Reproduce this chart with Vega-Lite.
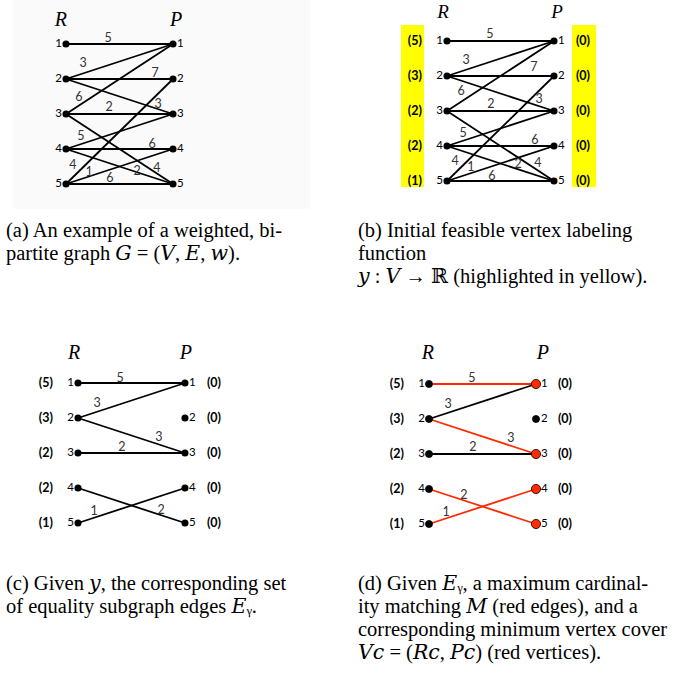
{
"$schema":"https://vega.github.io/schema/vega-lite/v6.json",
"padding":0,
"background":"white",
"datasets":{
"edges":[
{"panel":"a","r":1,"p":1,"w":5,"lx":0.393,"ly":0.829,"m":"no"},
{"panel":"a","r":2,"p":1,"w":3,"lx":0.159,"ly":1.543,"m":"no"},
{"panel":"a","r":2,"p":2,"w":7,"lx":0.832,"ly":1.829,"m":"no"},
{"panel":"a","r":2,"p":3,"w":3,"lx":0.860,"ly":2.714,"m":"no"},
{"panel":"a","r":3,"p":1,"w":6,"lx":0.121,"ly":2.514,"m":"no"},
{"panel":"a","r":3,"p":3,"w":2,"lx":0.402,"ly":2.8,"m":"no"},
{"panel":"a","r":3,"p":5,"w":4,"lx":0.850,"ly":4.543,"m":"no"},
{"panel":"a","r":4,"p":3,"w":5,"lx":0.140,"ly":3.629,"m":"no"},
{"panel":"a","r":4,"p":4,"w":6,"lx":0.804,"ly":3.857,"m":"no"},
{"panel":"a","r":4,"p":5,"w":2,"lx":0.664,"ly":4.629,"m":"no"},
{"panel":"a","r":5,"p":2,"w":4,"lx":0.065,"ly":4.457,"m":"no"},
{"panel":"a","r":5,"p":4,"w":1,"lx":0.215,"ly":4.657,"m":"no"},
{"panel":"a","r":5,"p":5,"w":6,"lx":0.411,"ly":4.829,"m":"no"},
{"panel":"b","r":1,"p":1,"w":5,"lx":0.40,"ly":0.80,"m":"no"},
{"panel":"b","r":2,"p":1,"w":3,"lx":0.178,"ly":1.543,"m":"no"},
{"panel":"b","r":2,"p":2,"w":7,"lx":0.813,"ly":1.743,"m":"no"},
{"panel":"b","r":2,"p":3,"w":3,"lx":0.86,"ly":2.657,"m":"no"},
{"panel":"b","r":3,"p":1,"w":6,"lx":0.131,"ly":2.43,"m":"no"},
{"panel":"b","r":3,"p":3,"w":2,"lx":0.411,"ly":2.8,"m":"no"},
{"panel":"b","r":3,"p":5,"w":4,"lx":0.85,"ly":4.49,"m":"no"},
{"panel":"b","r":4,"p":3,"w":5,"lx":0.15,"ly":3.63,"m":"no"},
{"panel":"b","r":4,"p":4,"w":6,"lx":0.822,"ly":3.83,"m":"no"},
{"panel":"b","r":4,"p":5,"w":2,"lx":0.664,"ly":4.51,"m":"no"},
{"panel":"b","r":5,"p":2,"w":4,"lx":0.075,"ly":4.43,"m":"no"},
{"panel":"b","r":5,"p":4,"w":1,"lx":0.224,"ly":4.6,"m":"no"},
{"panel":"b","r":5,"p":5,"w":6,"lx":0.42,"ly":4.86,"m":"no"},
{"panel":"c","r":1,"p":1,"w":5,"lx":0.393,"ly":0.857,"m":"no"},
{"panel":"c","r":2,"p":1,"w":3,"lx":0.178,"ly":1.571,"m":"no"},
{"panel":"c","r":2,"p":3,"w":3,"lx":0.757,"ly":2.543,"m":"no"},
{"panel":"c","r":3,"p":3,"w":2,"lx":0.411,"ly":2.829,"m":"no"},
{"panel":"c","r":5,"p":4,"w":1,"lx":0.15,"ly":4.657,"m":"no"},
{"panel":"c","r":4,"p":5,"w":2,"lx":0.776,"ly":4.629,"m":"no"},
{"panel":"d","r":1,"p":1,"w":5,"lx":0.40,"ly":0.83,"m":"yes"},
{"panel":"d","r":2,"p":1,"w":3,"lx":0.178,"ly":1.57,"m":"no"},
{"panel":"d","r":2,"p":3,"w":3,"lx":0.766,"ly":2.54,"m":"yes"},
{"panel":"d","r":3,"p":3,"w":2,"lx":0.41,"ly":2.8,"m":"no"},
{"panel":"d","r":4,"p":5,"w":2,"lx":0.327,"ly":4.17,"m":"yes"},
{"panel":"d","r":5,"p":4,"w":1,"lx":0.159,"ly":4.66,"m":"yes"}
],
"nodes":[
{"s":0,"v":1,"lab":"(5)","cov":"no"},
{"s":0,"v":2,"lab":"(3)","cov":"no"},
{"s":0,"v":3,"lab":"(2)","cov":"no"},
{"s":0,"v":4,"lab":"(2)","cov":"no"},
{"s":0,"v":5,"lab":"(1)","cov":"no"},
{"s":1,"v":1,"lab":"(0)","cov":"yes"},
{"s":1,"v":2,"lab":"(0)","cov":"no"},
{"s":1,"v":3,"lab":"(0)","cov":"yes"},
{"s":1,"v":4,"lab":"(0)","cov":"yes"},
{"s":1,"v":5,"lab":"(0)","cov":"yes"}
]
},
"vconcat":[
{"hconcat":[
{"width":337,"height":337,"layer":[
{"data":{"values":[{}]},"mark":{"type":"rect","fill":"#fafafa"},"encoding":{"x":{"datum":-0.495,"type":"quantitative"},"x2":{"datum":2.28},"y":{"datum":-0.257,"type":"quantitative"},"y2":{"datum":5.714}}},
{"data":{"name":"edges"},"transform":[{"filter":"datum.panel=='a'"}],"mark":{"type":"rule","stroke":"black","strokeWidth":1.8},"encoding":{"x":{"datum":0,"type":"quantitative","scale":{"domain":[-0.6168,2.5327],"nice":false,"zero":false}},"x2":{"datum":1},"y":{"field":"r","type":"quantitative","scale":{"domain":[-0.2571,9.3714],"nice":false,"zero":false,"reverse":true}},"y2":{"field":"p"}}},
{"data":{"name":"edges"},"transform":[{"filter":"datum.panel=='a'"}],"mark":{"type":"text","font":"Lato","fontSize":12.5,"color":"#333"},"encoding":{"x":{"field":"lx","type":"quantitative"},"y":{"field":"ly","type":"quantitative"},"text":{"field":"w"}}},
{"data":{"name":"nodes"},"mark":{"type":"circle","color":"black","size":50,"opacity":1},"encoding":{"x":{"field":"s","type":"quantitative"},"y":{"field":"v","type":"quantitative"}}},
{"data":{"name":"nodes"},"transform":[{"filter":"datum.s==0"}],"mark":{"type":"text","align":"right","dx":-4,"font":"Lato","fontSize":11.5,"color":"black"},"encoding":{"x":{"field":"s","type":"quantitative"},"y":{"field":"v","type":"quantitative"},"text":{"field":"v"}}},
{"data":{"name":"nodes"},"transform":[{"filter":"datum.s==1"}],"mark":{"type":"text","align":"left","dx":4,"font":"Lato","fontSize":11.5,"color":"black"},"encoding":{"x":{"field":"s","type":"quantitative"},"y":{"field":"v","type":"quantitative"},"text":{"field":"v"}}},
{"data":{"values":[{}]},"mark":{"type":"text","text":"R","font":"Liberation Serif","fontStyle":"italic","fontSize":20,"baseline":"alphabetic","color":"black"},"encoding":{"x":{"datum":-0.047,"type":"quantitative"},"y":{"datum":0.477,"type":"quantitative"}}},
{"data":{"values":[{}]},"mark":{"type":"text","text":"P","font":"Liberation Serif","fontStyle":"italic","fontSize":20,"baseline":"alphabetic","color":"black"},"encoding":{"x":{"datum":1.028,"type":"quantitative"},"y":{"datum":0.477,"type":"quantitative"}}},
{"data":{"values":[{}]},"mark":{"type":"text","text":["(a) An example of a weighted, bi-","partite graph 𝐺 = (𝑉, 𝐸, 𝑤)."],"align":"left","baseline":"alphabetic","lineHeight":23,"font":"Liberation Serif, DejaVu Serif, serif","fontSize":20.5,"color":"black"},"encoding":{"x":{"datum":-0.561,"type":"quantitative"},"y":{"datum":6.514,"type":"quantitative"}}}
]},
{"width":337,"height":337,"layer":[
{"data":{"values":[{"x":-0.43,"x2":-0.215},{"x":1.168,"x2":1.393}]},"mark":{"type":"rect","fill":"#ffff00"},"encoding":{"x":{"field":"x","type":"quantitative"},"x2":{"field":"x2"},"y":{"datum":0.543,"type":"quantitative"},"y2":{"datum":5.171}}},
{"data":{"name":"edges"},"transform":[{"filter":"datum.panel=='b'"}],"mark":{"type":"rule","stroke":"black","strokeWidth":1.8},"encoding":{"x":{"datum":0,"type":"quantitative","scale":{"domain":[-1.028,2.1215],"nice":false,"zero":false}},"x2":{"datum":1},"y":{"field":"r","type":"quantitative","scale":{"domain":[-0.1714,9.457],"nice":false,"zero":false,"reverse":true}},"y2":{"field":"p"}}},
{"data":{"name":"edges"},"transform":[{"filter":"datum.panel=='b'"}],"mark":{"type":"text","font":"Lato","fontSize":12.5,"color":"#333"},"encoding":{"x":{"field":"lx","type":"quantitative"},"y":{"field":"ly","type":"quantitative"},"text":{"field":"w"}}},
{"data":{"name":"nodes"},"mark":{"type":"circle","color":"black","size":50,"opacity":1},"encoding":{"x":{"field":"s","type":"quantitative"},"y":{"field":"v","type":"quantitative"}}},
{"data":{"name":"nodes"},"transform":[{"filter":"datum.s==0"}],"mark":{"type":"text","align":"right","dx":-4,"font":"Lato","fontSize":11.5,"color":"black"},"encoding":{"x":{"field":"s","type":"quantitative"},"y":{"field":"v","type":"quantitative"},"text":{"field":"v"}}},
{"data":{"name":"nodes"},"transform":[{"filter":"datum.s==1"}],"mark":{"type":"text","align":"left","dx":4,"font":"Lato","fontSize":11.5,"color":"black"},"encoding":{"x":{"field":"s","type":"quantitative"},"y":{"field":"v","type":"quantitative"},"text":{"field":"v"}}},
{"data":{"name":"nodes"},"transform":[{"filter":"datum.s==0"}],"mark":{"type":"text","font":"Lato","fontSize":12.5,"fontWeight":"bold","color":"black"},"encoding":{"x":{"datum":-0.3,"type":"quantitative"},"y":{"field":"v","type":"quantitative"},"text":{"field":"lab"}}},
{"data":{"name":"nodes"},"transform":[{"filter":"datum.s==1"}],"mark":{"type":"text","font":"Lato","fontSize":12.5,"fontWeight":"bold","color":"black"},"encoding":{"x":{"datum":1.271,"type":"quantitative"},"y":{"field":"v","type":"quantitative"},"text":{"field":"lab"}}},
{"data":{"values":[{}]},"mark":{"type":"text","text":"R","font":"Liberation Serif","fontStyle":"italic","fontSize":19,"baseline":"alphabetic","color":"black"},"encoding":{"x":{"datum":-0.037,"type":"quantitative"},"y":{"datum":0.343,"type":"quantitative"}}},
{"data":{"values":[{}]},"mark":{"type":"text","text":"P","font":"Liberation Serif","fontStyle":"italic","fontSize":19,"baseline":"alphabetic","color":"black"},"encoding":{"x":{"datum":1.028,"type":"quantitative"},"y":{"datum":0.343,"type":"quantitative"}}},
{"data":{"values":[{}]},"mark":{"type":"text","text":["(b) Initial feasible vertex labeling","function","𝑦 : 𝑉 → ℝ (highlighted in yellow)."],"align":"left","baseline":"alphabetic","lineHeight":23,"font":"Liberation Serif, DejaVu Serif, serif","fontSize":20.5,"color":"black"},"encoding":{"x":{"datum":-0.832,"type":"quantitative"},"y":{"datum":6.6,"type":"quantitative"}}}
]}
],"spacing":0},
{"hconcat":[
{"width":337,"height":337,"layer":[
{"data":{"name":"edges"},"transform":[{"filter":"datum.panel=='c'"}],"mark":{"type":"rule","stroke":"black","strokeWidth":1.8},"encoding":{"x":{"datum":0,"type":"quantitative","scale":{"domain":[-0.729,2.421],"nice":false,"zero":false}},"x2":{"datum":1},"y":{"field":"r","type":"quantitative","scale":{"domain":[-0.314,9.314],"nice":false,"zero":false,"reverse":true}},"y2":{"field":"p"}}},
{"data":{"name":"edges"},"transform":[{"filter":"datum.panel=='c'"}],"mark":{"type":"text","font":"Lato","fontSize":12.5,"color":"#333"},"encoding":{"x":{"field":"lx","type":"quantitative"},"y":{"field":"ly","type":"quantitative"},"text":{"field":"w"}}},
{"data":{"name":"nodes"},"mark":{"type":"circle","color":"black","size":50,"opacity":1},"encoding":{"x":{"field":"s","type":"quantitative"},"y":{"field":"v","type":"quantitative"}}},
{"data":{"name":"nodes"},"transform":[{"filter":"datum.s==0"}],"mark":{"type":"text","align":"right","dx":-4,"font":"Lato","fontSize":11.5,"color":"black"},"encoding":{"x":{"field":"s","type":"quantitative"},"y":{"field":"v","type":"quantitative"},"text":{"field":"v"}}},
{"data":{"name":"nodes"},"transform":[{"filter":"datum.s==1"}],"mark":{"type":"text","align":"left","dx":4,"font":"Lato","fontSize":11.5,"color":"black"},"encoding":{"x":{"field":"s","type":"quantitative"},"y":{"field":"v","type":"quantitative"},"text":{"field":"v"}}},
{"data":{"name":"nodes"},"transform":[{"filter":"datum.s==0"}],"mark":{"type":"text","font":"Lato","fontSize":12.5,"fontWeight":"bold","color":"black"},"encoding":{"x":{"datum":-0.3,"type":"quantitative"},"y":{"field":"v","type":"quantitative"},"text":{"field":"lab"}}},
{"data":{"name":"nodes"},"transform":[{"filter":"datum.s==1"}],"mark":{"type":"text","font":"Lato","fontSize":12.5,"fontWeight":"bold","color":"black"},"encoding":{"x":{"datum":1.271,"type":"quantitative"},"y":{"field":"v","type":"quantitative"},"text":{"field":"lab"}}},
{"data":{"values":[{}]},"mark":{"type":"text","text":"R","font":"Liberation Serif","fontStyle":"italic","fontSize":20,"baseline":"alphabetic","color":"black"},"encoding":{"x":{"datum":-0.037,"type":"quantitative"},"y":{"datum":0.314,"type":"quantitative"}}},
{"data":{"values":[{}]},"mark":{"type":"text","text":"P","font":"Liberation Serif","fontStyle":"italic","fontSize":20,"baseline":"alphabetic","color":"black"},"encoding":{"x":{"datum":1.009,"type":"quantitative"},"y":{"datum":0.314,"type":"quantitative"}}},
{"data":{"values":[{}]},"mark":{"type":"text","text":["(c) Given 𝑦, the corresponding set","of equality subgraph edges 𝐸ᵧ."],"align":"left","baseline":"alphabetic","lineHeight":23,"font":"Liberation Serif, DejaVu Serif, serif","fontSize":20.5,"color":"black"},"encoding":{"x":{"datum":-0.673,"type":"quantitative"},"y":{"datum":6.914,"type":"quantitative"}}}
]},
{"width":337,"height":337,"layer":[
{"data":{"name":"edges"},"transform":[{"filter":"datum.panel=='d'"}],"mark":{"type":"rule","strokeWidth":1.8},"encoding":{"x":{"datum":0,"type":"quantitative","scale":{"domain":[-0.86,2.29],"nice":false,"zero":false}},"x2":{"datum":1},"y":{"field":"r","type":"quantitative","scale":{"domain":[-0.343,9.286],"nice":false,"zero":false,"reverse":true}},"y2":{"field":"p"},"color":{"field":"m","type":"nominal","scale":{"domain":["no","yes"],"range":["black","#ff2a00"]},"legend":null}}},
{"data":{"name":"edges"},"transform":[{"filter":"datum.panel=='d'"}],"mark":{"type":"text","font":"Lato","fontSize":12.5,"color":"#333"},"encoding":{"x":{"field":"lx","type":"quantitative"},"y":{"field":"ly","type":"quantitative"},"text":{"field":"w"}}},
{"data":{"name":"nodes"},"mark":{"type":"circle","stroke":"black","strokeWidth":0.8,"opacity":1},"encoding":{"x":{"field":"s","type":"quantitative"},"y":{"field":"v","type":"quantitative"},"fill":{"field":"cov","type":"nominal","scale":{"domain":["no","yes"],"range":["black","#ff2a00"]},"legend":null},"size":{"field":"cov","type":"ordinal","scale":{"domain":["no","yes"],"range":[50,85]},"legend":null}}},
{"data":{"name":"nodes"},"transform":[{"filter":"datum.s==0"}],"mark":{"type":"text","align":"right","dx":-4,"font":"Lato","fontSize":11.5,"color":"black"},"encoding":{"x":{"field":"s","type":"quantitative"},"y":{"field":"v","type":"quantitative"},"text":{"field":"v"}}},
{"data":{"name":"nodes"},"transform":[{"filter":"datum.s==1"}],"mark":{"type":"text","align":"left","dx":5,"font":"Lato","fontSize":11.5,"color":"black"},"encoding":{"x":{"field":"s","type":"quantitative"},"y":{"field":"v","type":"quantitative"},"text":{"field":"v"}}},
{"data":{"name":"nodes"},"transform":[{"filter":"datum.s==0"}],"mark":{"type":"text","font":"Lato","fontSize":12.5,"fontWeight":"bold","color":"black"},"encoding":{"x":{"datum":-0.3,"type":"quantitative"},"y":{"field":"v","type":"quantitative"},"text":{"field":"lab"}}},
{"data":{"name":"nodes"},"transform":[{"filter":"datum.s==1"}],"mark":{"type":"text","font":"Lato","fontSize":12.5,"fontWeight":"bold","color":"black"},"encoding":{"x":{"datum":1.271,"type":"quantitative"},"y":{"field":"v","type":"quantitative"},"text":{"field":"lab"}}},
{"data":{"values":[{}]},"mark":{"type":"text","text":"R","font":"Liberation Serif","fontStyle":"italic","fontSize":20,"baseline":"alphabetic","color":"black"},"encoding":{"x":{"datum":-0.01,"type":"quantitative"},"y":{"datum":0.286,"type":"quantitative"}}},
{"data":{"values":[{}]},"mark":{"type":"text","text":"P","font":"Liberation Serif","fontStyle":"italic","fontSize":20,"baseline":"alphabetic","color":"black"},"encoding":{"x":{"datum":1.065,"type":"quantitative"},"y":{"datum":0.286,"type":"quantitative"}}},
{"data":{"values":[{}]},"mark":{"type":"text","text":["(d) Given 𝐸ᵧ, a maximum cardinal-","ity matching 𝑀 (red edges), and a","corresponding minimum vertex cover","𝑉𝑐 = (𝑅𝑐, 𝑃𝑐) (red vertices)."],"align":"left","baseline":"alphabetic","lineHeight":23,"font":"Liberation Serif, DejaVu Serif, serif","fontSize":20.5,"color":"black"},"encoding":{"x":{"datum":-0.664,"type":"quantitative"},"y":{"datum":6.886,"type":"quantitative"}}}
]}
],"spacing":0}
],
"spacing":0,
"config":{"view":{"stroke":null},"axis":{"disable":true},"legend":{"disable":true}}
}
